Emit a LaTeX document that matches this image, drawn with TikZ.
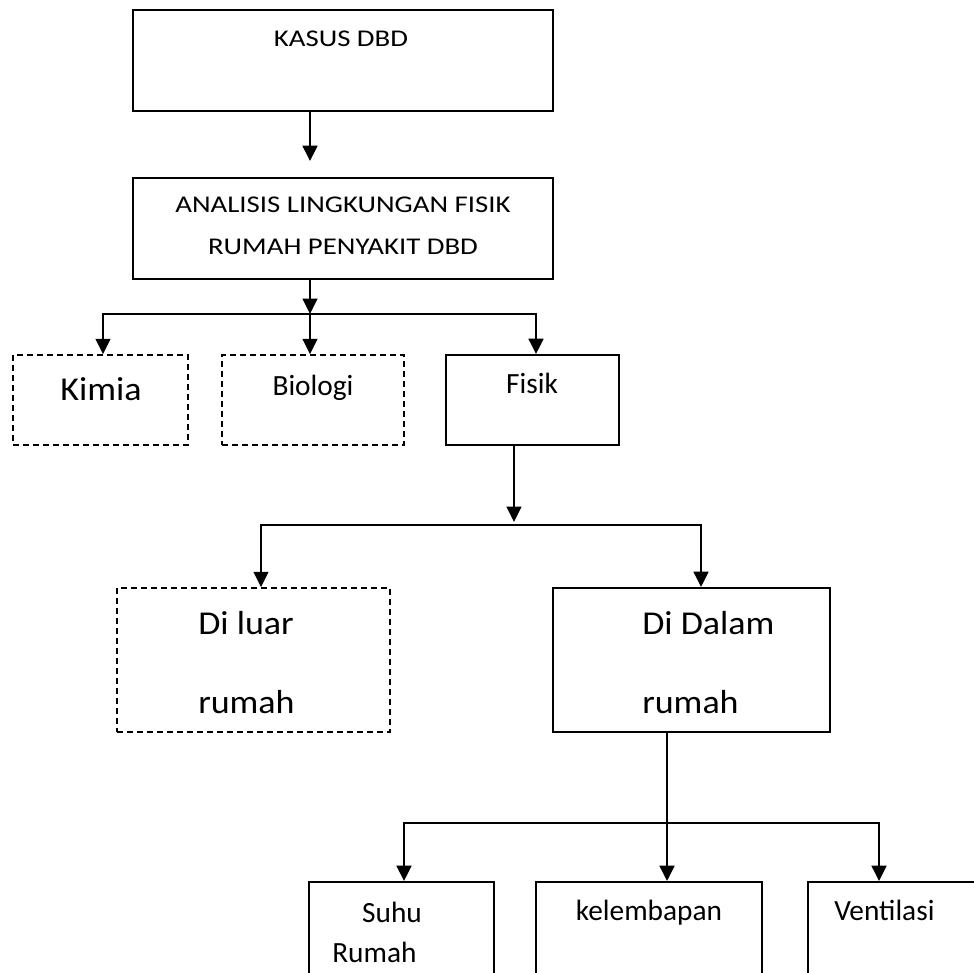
\documentclass[tikz,border=0pt]{standalone}
\usepackage{fontspec}
\setmainfont{Carlito}
\newfontfamily\wideA[FakeStretch=1.2]{Carlito}
\newfontfamily\wideB[FakeStretch=1.08]{Carlito}
\usetikzlibrary{arrows.meta,fit}
\tikzset{
  box/.style={draw=black, line width=1.4pt, inner sep=0pt, fill=none},
  dbox/.style={box, line width=1.3pt, dash pattern=on 4.5pt off 3pt},
  conn/.style={draw=black, line width=1.7pt},
  arr/.style={conn, -{Triangle[width=11pt,length=11.5pt]}},
  arrtwo/.style={conn, {Triangle[width=11pt,length=11.5pt]}-{Triangle[width=11pt,length=11.5pt]}},
  txt/.style={inner sep=0pt, anchor=base},
  txtw/.style={inner sep=0pt, anchor=base west},
  topfont/.style={font=\wideA\fontsize{18pt}{21pt}\selectfont},
  bigfont/.style={font=\wideB\fontsize{25pt}{29pt}\selectfont},
  midfont/.style={font=\fontsize{22pt}{26pt}\selectfont},
}
\begin{document}
\begin{tikzpicture}[x=0.75pt, y=-0.75pt]
\useasboundingbox (0,0) rectangle (974,973);
\clip (0,0) rectangle (974,973);

% boxes
\node[box, fit={(133,10) (553,111)}] (kasus) {};
\node[box, fit={(133,178) (553,279)}] (analisis) {};
\node[dbox, fit={(13,355) (188,445)}] (kimia) {};
\node[dbox, fit={(222,355) (404,445)}] (biologi) {};
\node[box, fit={(446,355) (619,445)}] (fisik) {};
\node[dbox, fit={(117,588) (390,732)}] (diluar) {};
\node[box, fit={(553,588) (830,732)}] (didalam) {};
\node[box, fit={(309,882) (494,1010)}] (suhu) {};
\node[box, fit={(536,882) (762,1010)}] (lembab) {};
\node[box, fit={(808,882) (1010,1010)}] (venti) {};

% texts
\node[txt, topfont] (kasusT) at (341,47) {KASUS DBD};
\node[txt, topfont] (analisisT1) at (343,213) {ANALISIS LINGKUNGAN FISIK};
\node[txt, topfont] (analisisT2) at (343,255) {RUMAH PENYAKIT DBD};
\node[txt, bigfont] (kimiaT) at (101,400) {Kimia};
\node[txt, midfont] (biologiT) at (313,395) {Biologi};
\node[txt, midfont] (fisikT) at (532,393) {Fisik};
\node[txtw, bigfont] (diluarT1) at (198,634) {Di luar};
\node[txtw, bigfont] (diluarT2) at (198,713) {rumah};
\node[txtw, bigfont] (didalamT1) at (642,634) {Di Dalam};
\node[txtw, bigfont] (didalamT2) at (642,713) {rumah};
\node[txt, midfont] (suhuT1) at (392,922) {Suhu};
\node[txtw, midfont] (suhuT2) at (332,962) {Rumah};
\node[txt, midfont] (lembabT) at (649,920) {kelembapan};
\node[txtw, midfont] (ventiT) at (834,920) {Ventilasi};

% connector coordinates
\coordinate (a1) at (310,0);
\coordinate (b1) at (310,314);
\coordinate (b1L) at (103,314);
\coordinate (b1R) at (536,314);
\coordinate (s2) at (514,522);
\coordinate (b2L) at (261,525);
\coordinate (b2R) at (701,525);
\coordinate (s3) at (667,0);
\coordinate (b3L) at (404,823);
\coordinate (b3R) at (879,823);

% connectors
\draw[arr] (kasus.south -| a1) -- ([yshift=12pt]analisis.north -| a1);
\draw[arr] (analisis.south -| b1) -- (b1);
\draw[arrtwo] (kimia.north -| b1L) -- (b1L) -- (b1R) -- (fisik.north -| b1R);
\draw[arr] (b1) -- (biologi.north -| b1);

\draw[arr] (fisik.south -| s2) -- (s2);
\draw[arrtwo] (diluar.north -| b2L) -- (b2L) -- (b2R) -- (didalam.north -| b2R);

\draw[arr] (didalam.south -| s3) -- (lembab.north -| s3);
\draw[arrtwo] (suhu.north -| b3L) -- (b3L) -- (b3R) -- (venti.north -| b3R);
\end{tikzpicture}
\end{document}
